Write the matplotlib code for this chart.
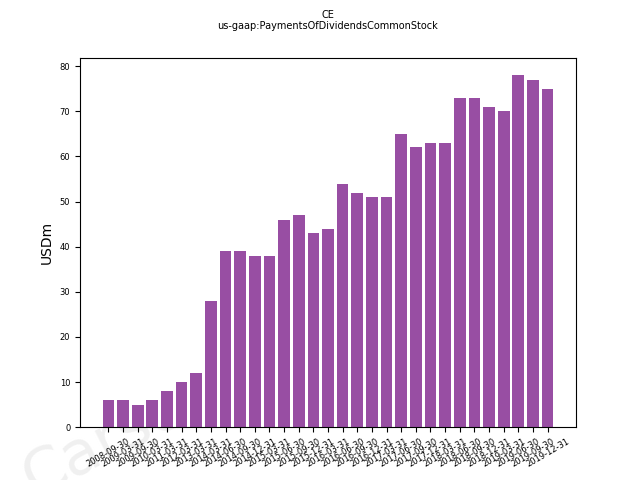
import matplotlib
matplotlib.use("Agg")
from matplotlib import pyplot as plt

dates = ["2008-09-30", "2009-03-31", "2009-09-30", "2010-03-31", "2011-03-31",
         "2012-03-31", "2013-03-31", "2014-03-31", "2014-06-30", "2014-09-30",
         "2014-12-31", "2015-03-31", "2015-06-30", "2015-09-30", "2015-12-31",
         "2016-03-31", "2016-06-30", "2016-09-30", "2016-12-31", "2017-03-31",
         "2017-06-30", "2017-09-30", "2017-12-31", "2018-03-31", "2018-06-30",
         "2018-09-30", "2018-12-31", "2019-03-31", "2019-06-30", "2019-09-30",
         "2019-12-31"]
values = [6, 6, 5, 6, 8, 10, 12, 28, 39, 39, 38, 38, 46, 47, 43, 44,
          54, 52, 51, 51, 65, 62, 63, 63, 73, 73, 71, 70, 78, 77, 75]

fig = plt.figure(figsize=(6.4, 4.8), dpi=100)
ax = fig.add_subplot(111)
ax.bar(dates, values, color="#984ea3")
fig.suptitle("CE\nus-gaap:PaymentsOfDividendsCommonStock", fontsize=7, x=0.5125)
ax.set_ylabel("USDm")
plt.xticks(rotation=30, fontsize=6)
plt.yticks(fontsize=6)

# watermark sits behind the axes
fig.text(0.02, -0.06, "Carsenal", fontsize=44, color="#f0f0f0", rotation=27,
         ha="left", va="bottom", zorder=-1)

fig.savefig("out.png")
